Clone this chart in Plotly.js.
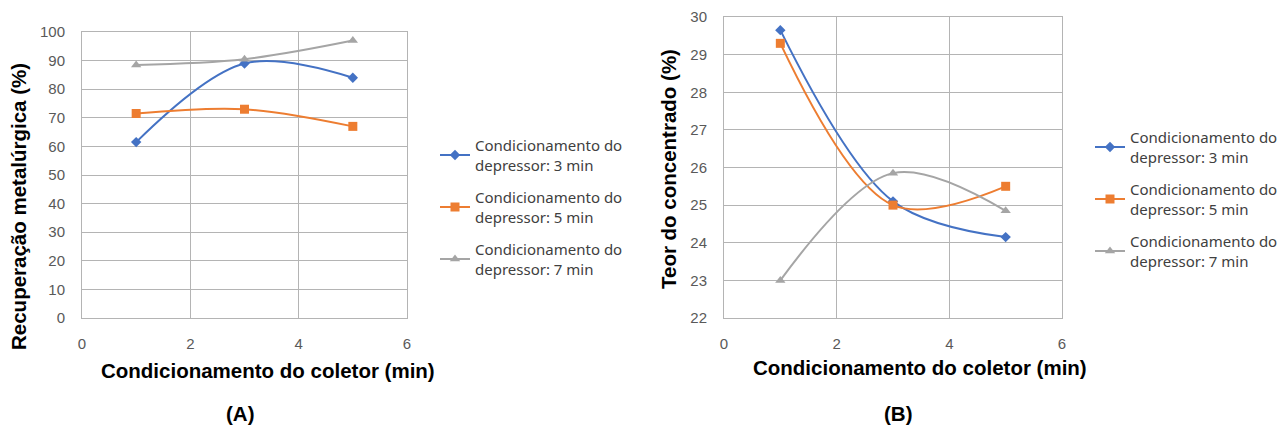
<!DOCTYPE html>
<html><head><meta charset="utf-8">
<script src="https://cdn.plot.ly/plotly-3.0.1.min.js"></script>
<style>body{margin:0;background:#fff}#c{width:1285px;height:431px}</style>
</head><body><div id="c"></div>
<script>
const xColetor = [1, 3, 5];
const seriesNames = ['Condicionamento do<br>depressor: 3 min', 'Condicionamento do<br>depressor: 5 min', 'Condicionamento do<br>depressor: 7 min'];
const recup3 = [61.5, 89, 84];
const recup5 = [71.5, 73, 67];
const recup7 = [88.5, 90.5, 97];
const teor3 = [29.65, 25.1, 24.15];
const teor5 = [29.3, 25.0, 25.5];
const teor7 = [23.0, 25.85, 24.85];
const xTicks = [0, 2, 4, 6];

const colors = ['#4472C4', '#ED7D31', '#A5A5A5'];
const symbols = ['diamond', 'square', 'triangle-up'];
const sizes = [8, 9, 9];

function mk(y, i, xa, ya, leg) {
  return {
    x: xColetor, y: y, type: 'scatter', mode: 'lines+markers',
    name: seriesNames[i], xaxis: xa, yaxis: ya, legend: leg,
    legendgroup: leg + i,
    line: {color: colors[i], width: 2, shape: 'spline', smoothing: 1},
    marker: {color: colors[i], symbol: symbols[i], size: sizes[i]}
  };
}
const data = [
  mk(recup3, 0, 'x', 'y', 'legend'), mk(recup5, 1, 'x', 'y', 'legend'), mk(recup7, 2, 'x', 'y', 'legend'),
  mk(teor3, 0, 'x2', 'y2', 'legend2'), mk(teor5, 1, 'x2', 'y2', 'legend2'), mk(teor7, 2, 'x2', 'y2', 'legend2')
];
const tickFont = {family: 'Liberation Sans, Arial, sans-serif', size: 15, color: '#595959'};
const ax = {
  showgrid: true, gridcolor: '#B4B4B4', gridwidth: 1, showline: true, linecolor: '#B4B4B4', mirror: true,
  zeroline: false, ticks: '', tickfont: tickFont, fixedrange: true
};
const titleFont = {family: 'Liberation Sans, Arial, sans-serif', size: 20.5, color: '#000', weight: 'bold'};
const legFont = {family: 'Noto Sans, sans-serif', size: 15, color: '#404040'};
const layout = {
  width: 1285, height: 431, margin: {l: 0, r: 0, t: 0, b: 0},
  paper_bgcolor: '#fff', plot_bgcolor: '#fff', showlegend: true,
  xaxis: Object.assign({}, ax, {domain: [82/1285, 407/1285], range: [0, 6], tickvals: xTicks, ticklabelstandoff: 12, anchor: 'y'}),
  yaxis: Object.assign({}, ax, {domain: [1-318/431, 1-32/431], range: [0, 100], dtick: 10, ticklabelstandoff: 13, anchor: 'x'}),
  xaxis2: Object.assign({}, ax, {domain: [724/1285, 1062/1285], range: [0, 6], tickvals: xTicks, ticklabelstandoff: 12, anchor: 'y2'}),
  yaxis2: Object.assign({}, ax, {domain: [1-318/431, 1-17/431], range: [22, 30], dtick: 1, ticklabelstandoff: 13, anchor: 'x2'}),
  legend: {x: 435/1285, xanchor: 'left', y: 1-129/431, yanchor: 'top', font: legFont, bgcolor: 'rgba(0,0,0,0)',
           traceorder: 'grouped', tracegroupgap: 10, itemwidth: 30},
  legend2: {x: 1090/1285, xanchor: 'left', y: 1-121/431, yanchor: 'top', font: legFont, bgcolor: 'rgba(0,0,0,0)',
           traceorder: 'grouped', tracegroupgap: 10, itemwidth: 30},
  annotations: [
    {text: 'Recuperação metalúrgica (%)', x: 18/1285, y: 1-207/431, xref: 'paper', yref: 'paper', textangle: -90, showarrow: false, font: titleFont, xanchor: 'center', yanchor: 'middle'},
    {text: 'Condicionamento do coletor (min)', x: 268/1285, y: 1-370/431, xref: 'paper', yref: 'paper', showarrow: false, font: titleFont, xanchor: 'center', yanchor: 'middle'},
    {text: '(A)', x: 240/1285, y: 1-413/431, xref: 'paper', yref: 'paper', showarrow: false, font: titleFont, xanchor: 'center', yanchor: 'middle'},
    {text: 'Teor do concentrado (%)', x: 668/1285, y: 1-169/431, xref: 'paper', yref: 'paper', textangle: -90, showarrow: false, font: titleFont, xanchor: 'center', yanchor: 'middle'},
    {text: 'Condicionamento do coletor (min)', x: 920/1285, y: 1-367/431, xref: 'paper', yref: 'paper', showarrow: false, font: titleFont, xanchor: 'center', yanchor: 'middle'},
    {text: '(B)', x: 898/1285, y: 1-413/431, xref: 'paper', yref: 'paper', showarrow: false, font: titleFont, xanchor: 'center', yanchor: 'middle'}
  ]
};
Plotly.newPlot('c', data, layout, {displayModeBar: false, staticPlot: true});
</script></body></html>
